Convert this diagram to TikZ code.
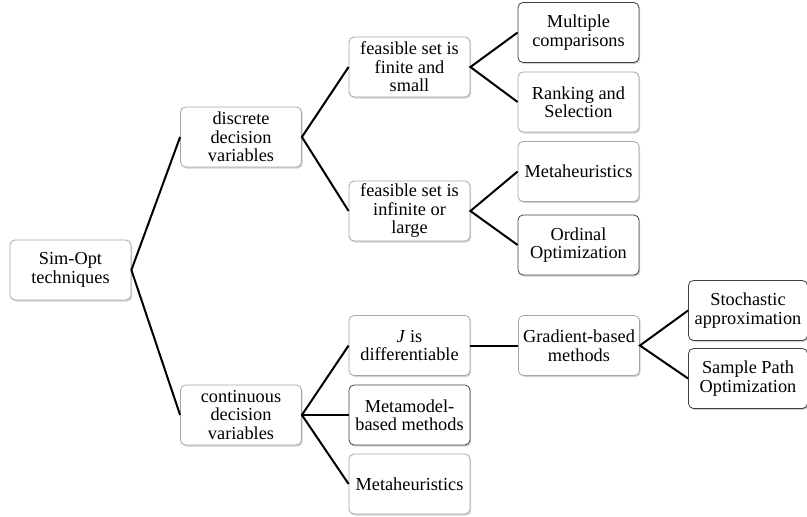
\documentclass[tikz,border=0pt]{standalone}
\usepackage{fontspec}
\setmainfont{Liberation Serif}
\usetikzlibrary{shadows}
\tikzset{
  box/.style={rectangle, rounded corners=5pt, minimum width=121pt, minimum height=60pt,
    inner sep=2pt, align=center, fill=white, draw=black!35, line width=0.8pt,
    font=\fontsize{18.3}{18.5}\selectfont,
    drop shadow={shadow xshift=1.2pt, shadow yshift=-1.5pt, opacity=0.35}},
  darkbox/.style={box, draw=black!75},
  link/.style={draw=black, line width=2pt}
}
\begin{document}
\begin{tikzpicture}[x=1pt,y=-1pt]
\useasboundingbox (0,0) rectangle (807,517);
\node[box] (sim) at (70.5,270) {Sim-Opt\\techniques};
\node[box] (disc) at (241,137) {discrete\\decision\\variables};
\node[box] (cont) at (241,415) {continuous\\decision\\variables};
\node[box] (fin) at (409.5,67) {feasible set is\\finite and\\small};
\node[box] (inf) at (409.5,211) {feasible set is\\infinite or\\large};
\node[darkbox] (mc) at (578.5,32.5) {Multiple\\comparisons};
\node[box] (rs) at (578.5,102) {Ranking and\\Selection};
\node[box] (mh1) at (578.5,171.5) {Metaheuristics};
\node[darkbox] (oo) at (578.5,245) {Ordinal\\Optimization};
\node[box] (jd) at (409.5,345.5) {\textit{J} is\\differentiable};
\node[darkbox] (mm) at (409.5,415) {Metamodel-\\based methods};
\node[box] (mh2) at (409.5,484) {Metaheuristics};
\node[box] (gb) at (579,345.5) {Gradient-based\\methods};
\node[darkbox, minimum width=119pt] (sa) at (748,310.5) {Stochastic\\approximation};
\node[darkbox, minimum width=119pt] (sp) at (748,378.5) {Sample Path\\Optimization};
\draw[link] (disc.west) -- (sim.east) -- (cont.west);
\draw[link] (fin.west) -- (disc.east) -- (inf.west);
\draw[link] (mc.west) -- (fin.east) -- (rs.west);
\draw[link] (mh1.west) -- (inf.east) -- (oo.west);
\draw[link] (jd.west) -- (cont.east) -- (mh2.west);
\draw[link] (cont.east) -- (mm.west);
\draw[link] (jd.east) -- (gb.west);
\draw[link] (sa.west) -- (gb.east) -- (sp.west);
\end{tikzpicture}
\end{document}
